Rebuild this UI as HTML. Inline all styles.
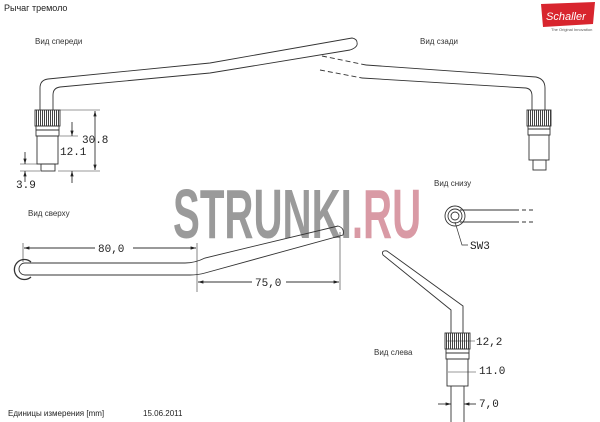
<!DOCTYPE html>
<html><head><meta charset="utf-8"><style>
body{margin:0;background:#fff;width:600px;height:422px;overflow:hidden}
svg{display:block}
text{font-family:"Liberation Sans",sans-serif}
.m{font-family:"Liberation Mono",monospace;font-size:11px;fill:#222}
.l{font-size:8px;fill:#333}
</style></head><body>
<svg width="600" height="422" viewBox="0 0 600 422" xmlns="http://www.w3.org/2000/svg">
<defs>
<marker id="a" viewBox="0 0 10 10" refX="10" refY="5" markerWidth="6" markerHeight="6" orient="auto-start-reverse"><path d="M0,2 L10,5 L0,8z" fill="#222"/></marker>
<pattern id="k" width="2" height="4" patternUnits="userSpaceOnUse"><rect width="1" height="4" fill="#444"/></pattern>
</defs>
<text x="4" y="11" font-size="9" fill="#222">Рычаг тремоло</text>
<!-- logo -->
<polygon points="541,4 595,2 593,24 543,27" fill="#d8252e"/>
<text x="546" y="20" font-size="11" fill="#fff" font-style="italic" font-family="Liberation Serif,serif">Schaller</text>
<text x="551" y="31" font-size="4" fill="#555">The Original Innovation</text>
<!-- watermark -->
<g transform="translate(173,238) scale(0.575,1)">
<text x="0" y="0" font-size="70" font-weight="bold" fill="#9a9a9a" font-family="Liberation Sans Narrow,Liberation Sans,sans-serif">STRUNKI<tspan fill="#d99aa5">.RU</tspan></text>
</g>
<g fill="none" stroke="#333" stroke-width="0.9">
<!-- front view -->
<path d="M40,110 L40,88 Q40,80 48,79 L210,63 L352,38 Q358,39 357,45 Q356,48 350,50 L210,73 L60,87 Q53,88 53,95 L53,110"/>
<rect x="35" y="110" width="25" height="16" fill="url(#k)"/>
<rect x="36" y="126" width="23" height="10"/>
<line x1="36" y1="130" x2="59" y2="130"/>
<rect x="37" y="136" width="21" height="28"/>
<rect x="41" y="164" width="14" height="7"/>
<!-- dims front -->
<line x1="60" y1="110" x2="100" y2="110" stroke-width="0.6"/>
<line x1="58" y1="171" x2="100" y2="171" stroke-width="0.6"/>
<line x1="95" y1="111" x2="95" y2="170" marker-start="url(#a)" marker-end="url(#a)"/>
<line x1="60" y1="136" x2="78" y2="136" stroke-width="0.6"/>
<line x1="72" y1="122" x2="72" y2="136" marker-end="url(#a)"/>
<line x1="72" y1="183" x2="72" y2="171" marker-end="url(#a)"/>
<line x1="20" y1="164" x2="40" y2="164" stroke-width="0.6"/>
<line x1="20" y1="171" x2="40" y2="171" stroke-width="0.6"/>
<line x1="25" y1="152" x2="25" y2="164" marker-end="url(#a)"/>
<line x1="25" y1="182" x2="25" y2="171" marker-end="url(#a)"/>
<!-- rear view -->
<path d="M322,56 L366,65" stroke-dasharray="5,3"/>
<path d="M320,70 L362,78" stroke-dasharray="5,3"/>
<path d="M366,65 L536,77 Q545,79 545,88 L545,110"/>
<path d="M362,78 L526,88 Q532,89 532,96 L532,110"/>
<rect x="527" y="110" width="24" height="16" fill="url(#k)"/>
<rect x="528" y="126" width="22" height="9"/>
<line x1="528" y1="129" x2="550" y2="129"/>
<rect x="529" y="135" width="20" height="25"/>
<rect x="533" y="160" width="13" height="10"/>
<!-- top view -->
<path d="M25,263 L185,263 Q195,263 205,258 L338,226 Q345,228 343,235 L205,273 Q198,275 190,275 L25,275"/>
<path d="M31,262 A10,10 0 1 0 31,277" stroke-width="1.3"/>
<path d="M25,263 A6,6 0 0 0 25,275"/>
<line x1="23" y1="243" x2="23" y2="262" stroke-width="0.6"/>
<line x1="197" y1="243" x2="197" y2="292" stroke-width="0.6"/>
<line x1="340" y1="232" x2="340" y2="290" stroke-width="0.6"/>
<line x1="24" y1="248" x2="196" y2="248" marker-start="url(#a)" marker-end="url(#a)"/>
<line x1="198" y1="282" x2="339" y2="282" marker-start="url(#a)" marker-end="url(#a)"/>
<!-- bottom view -->
<circle cx="455" cy="216" r="10"/>
<circle cx="455" cy="216" r="7"/>
<circle cx="455" cy="216" r="4"/>
<line x1="460" y1="210" x2="515" y2="210"/><line x1="515" y1="210" x2="535" y2="210" stroke-dasharray="4,3"/>
<line x1="460" y1="222" x2="515" y2="222"/><line x1="515" y1="222" x2="535" y2="222" stroke-dasharray="4,3"/>
<path d="M455,222 L462,245 L468,245" stroke-width="0.7"/>
<!-- left view -->
<path d="M451,333 L451,310 L383,255 Q381,250 387,251 L463,306 L463,333"/>
<rect x="445" y="333" width="25" height="16" fill="url(#k)"/>
<rect x="446" y="349" width="23" height="10"/>
<line x1="446" y1="353" x2="469" y2="353"/>
<rect x="447" y="359" width="21" height="27"/>
<line x1="451" y1="386" x2="451" y2="422"/><line x1="464" y1="386" x2="464" y2="422"/>
<line x1="447" y1="341" x2="475" y2="341" stroke-width="0.6"/>
<line x1="448" y1="372" x2="476" y2="372" stroke-width="0.6"/>
<line x1="438" y1="404" x2="451" y2="404" marker-end="url(#a)"/>
<line x1="476" y1="404" x2="464" y2="404" marker-end="url(#a)"/>
</g>
<text x="35" y="44" class="l">Вид спереди</text>
<text x="420" y="44" class="l">Вид сзади</text>
<text x="434" y="186" class="l">Вид снизу</text>
<text x="28" y="216" class="l">Вид сверху</text>
<text x="374" y="355" class="l">Вид слева</text>
<text x="82" y="143" class="m">30.8</text>
<text x="60" y="155" class="m">12.1</text>
<text x="16" y="188" class="m">3.9</text>
<rect x="95" y="242" width="38" height="10" fill="#fff"/>
<text x="98" y="252" class="m">80,0</text>
<rect x="252" y="276" width="34" height="10" fill="#fff"/>
<text x="255" y="286" class="m">75,0</text>
<text x="470" y="249" class="m">SW3</text>
<text x="476" y="345" class="m">12,2</text>
<text x="479" y="374" class="m">11.0</text>
<text x="479" y="407" class="m">7,0</text>
<text x="8" y="416" font-size="8" fill="#222">Единицы измерения [mm]</text>
<text x="143" y="416" font-size="8" fill="#222">15.06.2011</text>
</svg>
</body></html>
